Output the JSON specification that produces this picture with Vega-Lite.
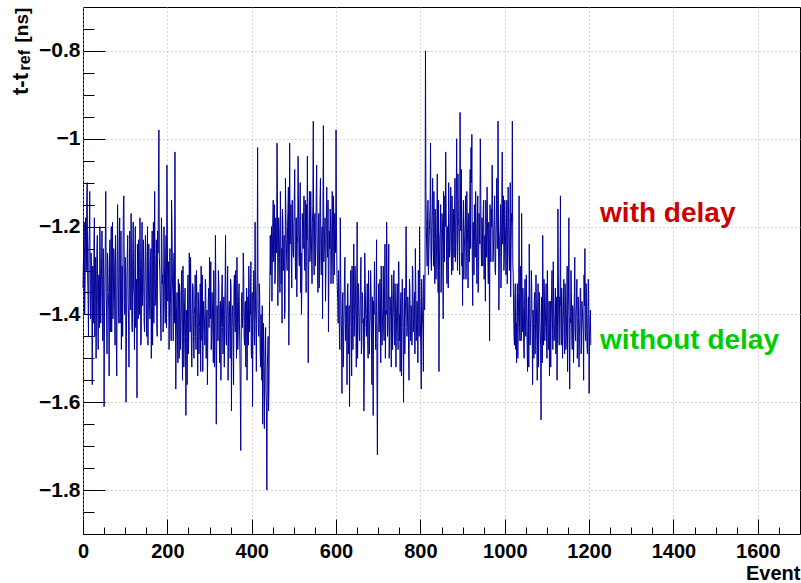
{
"$schema": "https://vega.github.io/schema/vega-lite/v6.json",
"autosize": "none",
"width": 717,
"height": 527,
"padding": {"left": 83, "top": 7, "right": 1, "bottom": 49},
"background": "white",
"config": {"view": {"stroke": "black", "strokeWidth": 1}},
"resolve": {"axis": {"x": "independent", "y": "independent"}},
"layer": [
{
"data": {"values": [
{"e":0,"t":-1.34},{"e":2,"t":-1.22},{"e":4,"t":-1.40},{"e":6,"t":-1.18},{"e":8,"t":-1.30},{"e":10,"t":-1.10},{"e":12,"t":-1.36},{"e":14,"t":-1.25},{"e":16,"t":-1.12},{"e":18,"t":-1.41},
{"e":20,"t":-1.28},{"e":22,"t":-1.56},{"e":24,"t":-1.30},{"e":26,"t":-1.24},{"e":28,"t":-1.45},{"e":30,"t":-1.27},{"e":32,"t":-1.38},{"e":34,"t":-1.22},{"e":36,"t":-1.48},{"e":38,"t":-1.31},
{"e":40,"t":-1.20},{"e":42,"t":-1.42},{"e":44,"t":-1.29},{"e":46,"t":-1.37},{"e":48,"t":-1.25},{"e":50,"t":-1.61},{"e":52,"t":-1.33},{"e":54,"t":-1.12},{"e":56,"t":-1.40},{"e":58,"t":-1.26},
{"e":60,"t":-1.35},{"e":62,"t":-1.54},{"e":64,"t":-1.23},{"e":66,"t":-1.31},{"e":68,"t":-1.44},{"e":70,"t":-1.19},{"e":72,"t":-1.36},{"e":74,"t":-1.28},{"e":76,"t":-1.47},{"e":78,"t":-1.30},
{"e":80,"t":-1.54},{"e":82,"t":-1.15},{"e":84,"t":-1.38},{"e":86,"t":-1.24},{"e":88,"t":-1.42},{"e":90,"t":-1.21},{"e":92,"t":-1.33},{"e":94,"t":-1.45},{"e":96,"t":-1.14},{"e":98,"t":-1.37},
{"e":100,"t":-1.27},{"e":102,"t":-1.60},{"e":104,"t":-1.32},{"e":106,"t":-1.22},{"e":108,"t":-1.41},{"e":110,"t":-1.29},{"e":112,"t":-1.36},{"e":114,"t":-1.17},{"e":116,"t":-1.43},{"e":118,"t":-1.25},
{"e":120,"t":-1.34},{"e":122,"t":-1.48},{"e":124,"t":-1.20},{"e":126,"t":-1.38},{"e":128,"t":-1.59},{"e":130,"t":-1.30},{"e":132,"t":-1.23},{"e":134,"t":-1.40},{"e":136,"t":-1.27},{"e":138,"t":-1.46},
{"e":140,"t":-1.19},{"e":142,"t":-1.35},{"e":144,"t":-1.29},{"e":146,"t":-1.44},{"e":148,"t":-1.22},{"e":150,"t":-1.37},{"e":152,"t":-1.31},{"e":154,"t":-1.47},{"e":156,"t":-1.24},{"e":158,"t":-1.39},
{"e":160,"t":-1.28},{"e":162,"t":-1.50},{"e":164,"t":-1.21},{"e":166,"t":-1.34},{"e":168,"t":-1.42},{"e":170,"t":-1.12},{"e":172,"t":-1.36},{"e":174,"t":-1.23},{"e":176,"t":-1.45},{"e":178,"t":-1.26},
{"e":180,"t":-0.98},{"e":182,"t":-1.30},{"e":184,"t":-1.40},{"e":186,"t":-1.18},{"e":188,"t":-1.33},{"e":190,"t":-1.44},{"e":192,"t":-1.20},{"e":194,"t":-1.37},{"e":196,"t":-1.27},{"e":198,"t":-1.43},
{"e":200,"t":-1.22},{"e":202,"t":-1.35},{"e":204,"t":-1.48},{"e":206,"t":-1.25},{"e":208,"t":-1.38},{"e":210,"t":-1.14},{"e":212,"t":-1.31},{"e":214,"t":-1.46},{"e":216,"t":-1.26},{"e":218,"t":-1.03},
{"e":220,"t":-1.57},{"e":222,"t":-1.38},{"e":224,"t":-1.46},{"e":226,"t":-1.32},{"e":228,"t":-1.50},{"e":230,"t":-1.36},{"e":232,"t":-1.43},{"e":234,"t":-1.30},{"e":236,"t":-1.55},{"e":238,"t":-1.39},
{"e":240,"t":-1.47},{"e":242,"t":-1.34},{"e":244,"t":-1.63},{"e":246,"t":-1.41},{"e":248,"t":-1.35},{"e":250,"t":-1.49},{"e":252,"t":-1.26},{"e":254,"t":-1.44},{"e":256,"t":-1.37},{"e":258,"t":-1.52},
{"e":260,"t":-1.33},{"e":262,"t":-1.45},{"e":264,"t":-1.40},{"e":266,"t":-1.31},{"e":268,"t":-1.48},{"e":270,"t":-1.36},{"e":272,"t":-1.54},{"e":274,"t":-1.38},{"e":276,"t":-1.43},{"e":278,"t":-1.33},
{"e":280,"t":-1.29},{"e":282,"t":-1.46},{"e":284,"t":-1.53},{"e":286,"t":-1.37},{"e":288,"t":-1.42},{"e":290,"t":-1.32},{"e":292,"t":-1.50},{"e":294,"t":-1.39},{"e":296,"t":-1.45},{"e":298,"t":-1.34},
{"e":300,"t":-1.27},{"e":302,"t":-1.41},{"e":304,"t":-1.48},{"e":306,"t":-1.35},{"e":308,"t":-1.44},{"e":310,"t":-1.30},{"e":312,"t":-1.52},{"e":314,"t":-1.22},{"e":316,"t":-1.65},{"e":318,"t":-1.38},
{"e":320,"t":-1.46},{"e":322,"t":-1.33},{"e":324,"t":-1.51},{"e":326,"t":-1.37},{"e":328,"t":-1.43},{"e":330,"t":-1.31},{"e":332,"t":-1.49},{"e":334,"t":-1.36},{"e":336,"t":-1.40},{"e":338,"t":-1.22},
{"e":340,"t":-1.47},{"e":342,"t":-1.35},{"e":344,"t":-1.55},{"e":346,"t":-1.38},{"e":348,"t":-1.44},{"e":350,"t":-1.32},{"e":352,"t":-1.62},{"e":354,"t":-1.39},{"e":356,"t":-1.46},{"e":358,"t":-1.34},
{"e":360,"t":-1.42},{"e":362,"t":-1.30},{"e":364,"t":-1.50},{"e":366,"t":-1.37},{"e":368,"t":-1.44},{"e":370,"t":-1.33},{"e":372,"t":-1.49},{"e":374,"t":-1.71},{"e":376,"t":-1.36},{"e":378,"t":-1.43},
{"e":380,"t":-1.26},{"e":382,"t":-1.45},{"e":384,"t":-1.38},{"e":386,"t":-1.52},{"e":388,"t":-1.34},{"e":390,"t":-1.41},{"e":392,"t":-1.47},{"e":394,"t":-1.33},{"e":396,"t":-1.39},{"e":398,"t":-1.28},
{"e":400,"t":-1.50},{"e":402,"t":-1.61},{"e":404,"t":-1.37},{"e":406,"t":-1.45},{"e":408,"t":-1.19},{"e":410,"t":-1.42},{"e":412,"t":-1.36},{"e":414,"t":-1.02},{"e":416,"t":-1.44},{"e":418,"t":-1.33},
{"e":420,"t":-1.48},{"e":422,"t":-1.40},{"e":424,"t":-1.55},{"e":426,"t":-1.65},{"e":428,"t":-1.42},{"e":430,"t":-1.66},{"e":432,"t":-1.50},{"e":434,"t":-1.58},{"e":436,"t":-1.80},{"e":438,"t":-1.49},
{"e":440,"t":-1.62},{"e":442,"t":-1.41},{"e":444,"t":-1.22},{"e":446,"t":-1.26},{"e":448,"t":-1.37},{"e":450,"t":-1.19},{"e":452,"t":-1.28},{"e":454,"t":-1.15},{"e":456,"t":-1.31},{"e":458,"t":-1.22},
{"e":460,"t":-1.01},{"e":462,"t":-1.38},{"e":464,"t":-1.18},{"e":466,"t":-1.27},{"e":468,"t":-1.12},{"e":470,"t":-1.33},{"e":472,"t":-1.42},{"e":474,"t":-1.20},{"e":476,"t":-1.25},{"e":478,"t":-1.41},
{"e":480,"t":-1.09},{"e":482,"t":-1.23},{"e":484,"t":-1.30},{"e":486,"t":-1.16},{"e":488,"t":-1.47},{"e":490,"t":-1.01},{"e":492,"t":-1.21},{"e":494,"t":-1.29},{"e":496,"t":-1.14},{"e":498,"t":-1.26},
{"e":500,"t":-1.19},{"e":502,"t":-1.07},{"e":504,"t":-1.32},{"e":506,"t":-1.18},{"e":508,"t":-1.24},{"e":510,"t":-1.04},{"e":512,"t":-1.27},{"e":514,"t":-1.20},{"e":516,"t":-1.35},{"e":518,"t":-1.40},
{"e":520,"t":-1.17},{"e":522,"t":-1.25},{"e":524,"t":-1.13},{"e":526,"t":-1.30},{"e":528,"t":-1.21},{"e":530,"t":-1.15},{"e":532,"t":-1.04},{"e":534,"t":-1.51},{"e":536,"t":-1.22},{"e":538,"t":-1.28},
{"e":540,"t":-1.12},{"e":542,"t":-1.26},{"e":544,"t":-1.19},{"e":546,"t":-0.96},{"e":548,"t":-1.31},{"e":550,"t":-1.17},{"e":552,"t":-1.24},{"e":554,"t":-1.06},{"e":556,"t":-1.29},{"e":558,"t":-1.20},
{"e":560,"t":-1.34},{"e":562,"t":-1.14},{"e":564,"t":-1.27},{"e":566,"t":-1.22},{"e":568,"t":-1.41},{"e":570,"t":-0.97},{"e":572,"t":-1.25},{"e":574,"t":-1.18},{"e":576,"t":-1.30},{"e":578,"t":-1.11},
{"e":580,"t":-1.27},{"e":582,"t":-1.44},{"e":584,"t":-1.21},{"e":586,"t":-1.16},{"e":588,"t":-1.33},{"e":590,"t":-1.19},{"e":592,"t":-1.26},{"e":594,"t":-1.13},{"e":596,"t":-1.31},{"e":598,"t":-1.22},
{"e":600,"t":-0.98},{"e":602,"t":-1.29},{"e":604,"t":-1.37},{"e":606,"t":-1.30},{"e":608,"t":-1.45},{"e":610,"t":-1.18},{"e":612,"t":-1.40},{"e":614,"t":-1.58},{"e":616,"t":-1.35},{"e":618,"t":-1.47},
{"e":620,"t":-1.31},{"e":622,"t":-1.42},{"e":624,"t":-1.38},{"e":626,"t":-1.56},{"e":628,"t":-1.33},{"e":630,"t":-1.45},{"e":632,"t":-1.61},{"e":634,"t":-1.36},{"e":636,"t":-1.43},{"e":638,"t":-1.29},
{"e":640,"t":-1.48},{"e":642,"t":-1.24},{"e":644,"t":-1.40},{"e":646,"t":-1.34},{"e":648,"t":-1.52},{"e":650,"t":-1.19},{"e":652,"t":-1.41},{"e":654,"t":-1.37},{"e":656,"t":-1.46},{"e":658,"t":-1.32},
{"e":660,"t":-1.49},{"e":662,"t":-1.35},{"e":664,"t":-1.42},{"e":666,"t":-1.62},{"e":668,"t":-1.26},{"e":670,"t":-1.39},{"e":672,"t":-1.45},{"e":674,"t":-1.33},{"e":676,"t":-1.50},{"e":678,"t":-1.37},
{"e":680,"t":-1.43},{"e":682,"t":-1.30},{"e":684,"t":-1.47},{"e":686,"t":-1.36},{"e":688,"t":-1.63},{"e":690,"t":-1.40},{"e":692,"t":-1.34},{"e":694,"t":-1.48},{"e":696,"t":-1.23},{"e":698,"t":-1.72},
{"e":700,"t":-1.38},{"e":702,"t":-1.44},{"e":704,"t":-1.32},{"e":706,"t":-1.51},{"e":708,"t":-1.37},{"e":710,"t":-1.42},{"e":712,"t":-1.29},{"e":714,"t":-1.46},{"e":716,"t":-1.24},{"e":718,"t":-1.39},
{"e":720,"t":-1.19},{"e":722,"t":-1.45},{"e":724,"t":-1.34},{"e":726,"t":-1.50},{"e":728,"t":-1.36},{"e":730,"t":-1.41},{"e":732,"t":-1.31},{"e":734,"t":-1.48},{"e":736,"t":-1.38},{"e":738,"t":-1.44},
{"e":740,"t":-1.33},{"e":742,"t":-1.52},{"e":744,"t":-1.37},{"e":746,"t":-1.42},{"e":748,"t":-1.28},{"e":750,"t":-1.46},{"e":752,"t":-1.53},{"e":754,"t":-1.35},{"e":756,"t":-1.43},{"e":758,"t":-1.39},
{"e":760,"t":-1.60},{"e":762,"t":-1.34},{"e":764,"t":-1.41},{"e":766,"t":-1.20},{"e":768,"t":-1.45},{"e":770,"t":-1.36},{"e":772,"t":-1.49},{"e":774,"t":-1.32},{"e":776,"t":-1.43},{"e":778,"t":-1.38},
{"e":780,"t":-1.47},{"e":782,"t":-1.30},{"e":784,"t":-1.41},{"e":786,"t":-1.35},{"e":788,"t":-1.25},{"e":790,"t":-1.46},{"e":792,"t":-1.37},{"e":794,"t":-1.51},{"e":796,"t":-1.33},{"e":798,"t":-1.20},
{"e":800,"t":-1.42},{"e":802,"t":-1.57},{"e":804,"t":-1.36},{"e":806,"t":-1.44},{"e":808,"t":-1.31},{"e":810,"t":-1.39},{"e":812,"t":-0.80},{"e":814,"t":-1.20},{"e":816,"t":-1.29},{"e":818,"t":-1.14},
{"e":820,"t":-1.26},{"e":822,"t":-1.18},{"e":824,"t":-1.01},{"e":826,"t":-1.30},{"e":828,"t":-1.16},{"e":830,"t":-1.24},{"e":832,"t":-1.12},{"e":834,"t":-1.33},{"e":836,"t":-1.21},{"e":838,"t":-1.27},
{"e":840,"t":-1.08},{"e":842,"t":-1.35},{"e":844,"t":-1.53},{"e":846,"t":-1.22},{"e":848,"t":-1.15},{"e":850,"t":-1.29},{"e":852,"t":-1.19},{"e":854,"t":-1.41},{"e":856,"t":-1.24},{"e":858,"t":-1.13},
{"e":860,"t":-1.03},{"e":862,"t":-1.28},{"e":864,"t":-1.20},{"e":866,"t":-1.34},{"e":868,"t":-1.17},{"e":870,"t":-1.25},{"e":872,"t":-1.11},{"e":874,"t":-1.31},{"e":876,"t":-1.22},{"e":878,"t":-1.16},
{"e":880,"t":-1.27},{"e":882,"t":-1.09},{"e":884,"t":-1.23},{"e":886,"t":-1.00},{"e":888,"t":-1.30},{"e":890,"t":-1.18},{"e":892,"t":-1.25},{"e":894,"t":-0.94},{"e":896,"t":-1.21},{"e":898,"t":-1.29},
{"e":900,"t":-1.38},{"e":902,"t":-1.14},{"e":904,"t":-1.26},{"e":906,"t":-1.19},{"e":908,"t":-1.32},{"e":910,"t":-1.12},{"e":912,"t":-1.24},{"e":914,"t":-1.17},{"e":916,"t":-1.28},{"e":918,"t":-1.07},
{"e":920,"t":-1.02},{"e":922,"t":-0.99},{"e":924,"t":-1.38},{"e":926,"t":-1.22},{"e":928,"t":-1.15},{"e":930,"t":-1.27},{"e":932,"t":-1.19},{"e":934,"t":-1.33},{"e":936,"t":-1.13},{"e":938,"t":-1.30},
{"e":940,"t":-1.21},{"e":942,"t":-1.00},{"e":944,"t":-1.25},{"e":946,"t":-1.18},{"e":948,"t":-1.29},{"e":950,"t":-1.14},{"e":952,"t":-1.23},{"e":954,"t":-1.37},{"e":956,"t":-1.20},{"e":958,"t":-1.11},
{"e":960,"t":-1.27},{"e":962,"t":-1.19},{"e":964,"t":-1.46},{"e":966,"t":-1.24},{"e":968,"t":-1.16},{"e":970,"t":-1.06},{"e":972,"t":-1.28},{"e":974,"t":-1.21},{"e":976,"t":-1.13},{"e":978,"t":-1.31},
{"e":980,"t":-1.18},{"e":982,"t":-1.25},{"e":984,"t":-0.96},{"e":986,"t":-1.39},{"e":988,"t":-1.22},{"e":990,"t":-1.15},{"e":992,"t":-1.27},{"e":994,"t":-1.03},{"e":996,"t":-1.20},{"e":998,"t":-1.30},
{"e":1000,"t":-1.14},{"e":1002,"t":-1.24},{"e":1004,"t":-1.19},{"e":1006,"t":-1.33},{"e":1008,"t":-1.11},{"e":1010,"t":-1.26},{"e":1012,"t":-1.21},{"e":1014,"t":-1.36},{"e":1016,"t":-1.17},{"e":1018,"t":-0.96},
{"e":1020,"t":-1.31},{"e":1022,"t":-1.45},{"e":1024,"t":-1.36},{"e":1026,"t":-1.48},{"e":1028,"t":-1.51},{"e":1030,"t":-1.33},{"e":1032,"t":-1.42},{"e":1034,"t":-1.13},{"e":1036,"t":-1.46},{"e":1038,"t":-1.35},
{"e":1040,"t":-1.17},{"e":1042,"t":-1.44},{"e":1044,"t":-1.39},{"e":1046,"t":-1.50},{"e":1048,"t":-1.32},{"e":1050,"t":-1.45},{"e":1052,"t":-1.38},{"e":1054,"t":-1.53},{"e":1056,"t":-1.36},{"e":1058,"t":-1.24},
{"e":1060,"t":-1.47},{"e":1062,"t":-1.40},{"e":1064,"t":-1.34},{"e":1066,"t":-1.56},{"e":1068,"t":-1.42},{"e":1070,"t":-1.37},{"e":1072,"t":-1.49},{"e":1074,"t":-1.31},{"e":1076,"t":-1.46},{"e":1078,"t":-1.39},
{"e":1080,"t":-1.52},{"e":1082,"t":-1.35},{"e":1084,"t":-1.44},{"e":1086,"t":-1.64},{"e":1088,"t":-1.41},{"e":1090,"t":-1.22},{"e":1092,"t":-1.47},{"e":1094,"t":-1.36},{"e":1096,"t":-1.43},{"e":1098,"t":-1.33},
{"e":1100,"t":-1.50},{"e":1102,"t":-1.38},{"e":1104,"t":-1.45},{"e":1106,"t":-1.54},{"e":1108,"t":-1.37},{"e":1110,"t":-1.42},{"e":1112,"t":-1.30},{"e":1114,"t":-1.48},{"e":1116,"t":-1.39},{"e":1118,"t":-1.44},
{"e":1120,"t":-1.34},{"e":1122,"t":-1.46},{"e":1124,"t":-1.55},{"e":1126,"t":-1.16},{"e":1128,"t":-1.41},{"e":1130,"t":-1.36},{"e":1132,"t":-1.13},{"e":1134,"t":-1.47},{"e":1136,"t":-1.38},{"e":1138,"t":-1.43},
{"e":1140,"t":-1.32},{"e":1142,"t":-1.49},{"e":1144,"t":-1.37},{"e":1146,"t":-1.45},{"e":1148,"t":-1.29},{"e":1150,"t":-1.40},{"e":1152,"t":-1.18},{"e":1154,"t":-1.57},{"e":1156,"t":-1.42},{"e":1158,"t":-1.35},
{"e":1160,"t":-1.48},{"e":1162,"t":-1.39},{"e":1164,"t":-1.44},{"e":1166,"t":-1.27},{"e":1168,"t":-1.46},{"e":1170,"t":-1.38},{"e":1172,"t":-1.50},{"e":1174,"t":-1.36},{"e":1176,"t":-1.52},{"e":1178,"t":-1.41},
{"e":1180,"t":-1.34},{"e":1182,"t":-1.47},{"e":1184,"t":-1.39},{"e":1186,"t":-1.44},{"e":1188,"t":-1.31},{"e":1190,"t":-1.25},{"e":1192,"t":-1.46},{"e":1194,"t":-1.40},{"e":1196,"t":-1.49},{"e":1198,"t":-1.32},
{"e":1200,"t":-1.58},{"e":1202,"t":-1.41},{"e":1204,"t":-1.47},
{"e":1,"t":-1.28},{"e":3,"t":-1.19},{"e":5,"t":-1.33},{"e":7,"t":-1.24},{"e":9,"t":-1.13},{"e":11,"t":-1.31},{"e":13,"t":-1.45},{"e":15,"t":-1.21},{"e":17,"t":-1.35},{"e":19,"t":-1.26},
{"e":21,"t":-1.38},{"e":23,"t":-1.29},{"e":25,"t":-1.42},{"e":27,"t":-1.18},{"e":29,"t":-1.34},{"e":31,"t":-1.50},{"e":33,"t":-1.25},{"e":35,"t":-1.39},{"e":37,"t":-1.32},{"e":39,"t":-1.43},
{"e":41,"t":-1.27},{"e":43,"t":-1.36},{"e":45,"t":-1.21},{"e":47,"t":-1.46},{"e":49,"t":-1.30},{"e":51,"t":-1.40},{"e":53,"t":-1.23},{"e":55,"t":-1.35},{"e":57,"t":-1.49},{"e":59,"t":-1.28},
{"e":61,"t":-1.39},{"e":63,"t":-1.26},{"e":65,"t":-1.44},{"e":67,"t":-1.20},{"e":69,"t":-1.33},{"e":71,"t":-1.41},{"e":73,"t":-1.25},{"e":75,"t":-1.37},{"e":77,"t":-1.22},{"e":79,"t":-1.46},
{"e":81,"t":-1.31},{"e":83,"t":-1.27},{"e":85,"t":-1.42},{"e":87,"t":-1.18},{"e":89,"t":-1.35},{"e":91,"t":-1.48},{"e":93,"t":-1.29},{"e":95,"t":-1.24},{"e":97,"t":-1.13},{"e":99,"t":-1.40},
{"e":101,"t":-1.33},{"e":103,"t":-1.45},{"e":105,"t":-1.26},{"e":107,"t":-1.37},{"e":109,"t":-1.52},{"e":111,"t":-1.21},{"e":113,"t":-1.39},{"e":115,"t":-1.30},{"e":117,"t":-1.44},{"e":119,"t":-1.19},
{"e":121,"t":-1.36},{"e":123,"t":-1.27},{"e":125,"t":-1.43},{"e":127,"t":-1.32},{"e":129,"t":-1.24},{"e":131,"t":-1.41},{"e":133,"t":-1.35},{"e":135,"t":-1.18},{"e":137,"t":-1.47},{"e":139,"t":-1.29},
{"e":141,"t":-1.38},{"e":143,"t":-1.23},{"e":145,"t":-1.42},{"e":147,"t":-1.31},{"e":149,"t":-1.26},{"e":151,"t":-1.45},{"e":153,"t":-1.20},{"e":155,"t":-1.36},{"e":157,"t":-1.30},{"e":159,"t":-1.41},
{"e":161,"t":-1.25},{"e":163,"t":-1.34},{"e":165,"t":-1.47},{"e":167,"t":-1.19},{"e":169,"t":-1.32},{"e":171,"t":-1.38},{"e":173,"t":-1.28},{"e":175,"t":-1.43},{"e":177,"t":-1.21},{"e":179,"t":-1.09},
{"e":181,"t":-1.27},{"e":183,"t":-1.35},{"e":185,"t":-1.46},{"e":187,"t":-1.24},{"e":189,"t":-1.31},{"e":191,"t":-1.39},{"e":193,"t":-1.29},{"e":195,"t":-1.42},{"e":197,"t":-1.22},{"e":199,"t":-1.06},
{"e":201,"t":-1.37},{"e":203,"t":-1.28},{"e":205,"t":-1.41},{"e":207,"t":-1.33},{"e":209,"t":-1.46},{"e":211,"t":-1.20},{"e":213,"t":-1.36},{"e":215,"t":-1.29},{"e":217,"t":-1.42},{"e":219,"t":-1.34},
{"e":221,"t":-1.46},{"e":223,"t":-1.35},{"e":225,"t":-1.51},{"e":227,"t":-1.40},{"e":229,"t":-1.33},{"e":231,"t":-1.48},{"e":233,"t":-1.38},{"e":235,"t":-1.44},{"e":237,"t":-1.29},{"e":239,"t":-1.52},
{"e":241,"t":-1.37},{"e":243,"t":-1.45},{"e":245,"t":-1.39},{"e":247,"t":-1.56},{"e":249,"t":-1.31},{"e":251,"t":-1.43},{"e":253,"t":-1.36},{"e":255,"t":-1.27},{"e":257,"t":-1.47},{"e":259,"t":-1.40},
{"e":261,"t":-1.34},{"e":263,"t":-1.50},{"e":265,"t":-1.38},{"e":267,"t":-1.45},{"e":269,"t":-1.30},{"e":271,"t":-1.42},{"e":273,"t":-1.35},{"e":275,"t":-1.49},{"e":277,"t":-1.39},{"e":279,"t":-1.53},
{"e":281,"t":-1.36},{"e":283,"t":-1.31},{"e":285,"t":-1.44},{"e":287,"t":-1.40},{"e":289,"t":-1.47},{"e":291,"t":-1.33},{"e":293,"t":-1.41},{"e":295,"t":-1.56},{"e":297,"t":-1.37},{"e":299,"t":-1.43},
{"e":301,"t":-1.32},{"e":303,"t":-1.28},{"e":305,"t":-1.45},{"e":307,"t":-1.39},{"e":309,"t":-1.51},{"e":311,"t":-1.36},{"e":313,"t":-1.42},{"e":315,"t":-1.34},{"e":317,"t":-1.48},{"e":319,"t":-1.41},
{"e":321,"t":-1.30},{"e":323,"t":-1.44},{"e":325,"t":-1.38},{"e":327,"t":-1.55},{"e":329,"t":-1.35},{"e":331,"t":-1.43},{"e":333,"t":-1.39},{"e":335,"t":-1.52},{"e":337,"t":-1.33},{"e":339,"t":-1.45},
{"e":341,"t":-1.40},{"e":343,"t":-1.29},{"e":345,"t":-1.46},{"e":347,"t":-1.37},{"e":349,"t":-1.50},{"e":351,"t":-1.34},{"e":353,"t":-1.43},{"e":355,"t":-1.38},{"e":357,"t":-1.56},{"e":359,"t":-1.31},
{"e":361,"t":-1.44},{"e":363,"t":-1.39},{"e":365,"t":-1.27},{"e":367,"t":-1.48},{"e":369,"t":-1.36},{"e":371,"t":-1.42},{"e":373,"t":-1.58},{"e":375,"t":-1.46},{"e":377,"t":-1.35},{"e":379,"t":-1.40},
{"e":381,"t":-1.31},{"e":383,"t":-1.47},{"e":385,"t":-1.37},{"e":387,"t":-1.43},{"e":389,"t":-1.55},{"e":391,"t":-1.36},{"e":393,"t":-1.29},{"e":395,"t":-1.44},{"e":397,"t":-1.40},{"e":399,"t":-1.49},
{"e":401,"t":-1.35},{"e":403,"t":-1.42},{"e":405,"t":-1.30},{"e":407,"t":-1.47},{"e":409,"t":-1.38},{"e":411,"t":-1.53},{"e":413,"t":-1.31},{"e":415,"t":-1.39},{"e":417,"t":-1.45},{"e":419,"t":-1.36},
{"e":421,"t":-1.52},{"e":423,"t":-1.44},{"e":425,"t":-1.38},{"e":427,"t":-1.57},{"e":429,"t":-1.47},{"e":431,"t":-1.54},{"e":433,"t":-1.43},{"e":435,"t":-1.61},{"e":437,"t":-1.52},{"e":439,"t":-1.45},
{"e":441,"t":-1.56},{"e":443,"t":-1.33},{"e":445,"t":-1.31},{"e":447,"t":-1.20},{"e":449,"t":-1.27},{"e":451,"t":-1.14},{"e":453,"t":-1.23},{"e":455,"t":-1.33},{"e":457,"t":-1.18},{"e":459,"t":-1.26},
{"e":461,"t":-1.12},{"e":463,"t":-1.29},{"e":465,"t":-1.21},{"e":467,"t":-1.35},{"e":469,"t":-1.19},{"e":471,"t":-1.25},{"e":473,"t":-1.16},{"e":475,"t":-1.30},{"e":477,"t":-1.22},{"e":479,"t":-1.39},
{"e":481,"t":-1.17},{"e":483,"t":-1.28},{"e":485,"t":-1.20},{"e":487,"t":-1.11},{"e":489,"t":-1.32},{"e":491,"t":-1.24},{"e":493,"t":-1.15},{"e":495,"t":-1.34},{"e":497,"t":-1.21},{"e":499,"t":-1.27},
{"e":501,"t":-1.13},{"e":503,"t":-1.25},{"e":505,"t":-1.18},{"e":507,"t":-1.36},{"e":509,"t":-1.22},{"e":511,"t":-1.16},{"e":513,"t":-1.29},{"e":515,"t":-1.10},{"e":517,"t":-1.26},{"e":519,"t":-1.32},
{"e":521,"t":-1.21},{"e":523,"t":-1.18},{"e":525,"t":-1.27},{"e":527,"t":-1.14},{"e":529,"t":-1.35},{"e":531,"t":-1.23},{"e":533,"t":-1.19},{"e":535,"t":-1.30},{"e":537,"t":-1.12},{"e":539,"t":-1.25},
{"e":541,"t":-1.20},{"e":543,"t":-1.33},{"e":545,"t":-1.15},{"e":547,"t":-1.24},{"e":549,"t":-1.18},{"e":551,"t":-1.29},{"e":553,"t":-1.13},{"e":555,"t":-1.22},{"e":557,"t":-1.35},{"e":559,"t":-1.17},
{"e":561,"t":-1.26},{"e":563,"t":-1.09},{"e":565,"t":-1.31},{"e":567,"t":-1.20},{"e":569,"t":-1.15},{"e":571,"t":-1.28},{"e":573,"t":-1.21},{"e":575,"t":-1.37},{"e":577,"t":-1.18},{"e":579,"t":-1.24},
{"e":581,"t":-1.14},{"e":583,"t":-1.32},{"e":585,"t":-1.25},{"e":587,"t":-1.19},{"e":589,"t":-1.28},{"e":591,"t":-1.12},{"e":593,"t":-1.33},{"e":595,"t":-1.21},{"e":597,"t":-1.17},{"e":599,"t":-1.26},
{"e":601,"t":-1.20},{"e":603,"t":-1.34},{"e":605,"t":-1.42},{"e":607,"t":-1.35},{"e":609,"t":-1.48},{"e":611,"t":-1.31},{"e":613,"t":-1.44},{"e":615,"t":-1.37},{"e":617,"t":-1.52},{"e":619,"t":-1.39},
{"e":621,"t":-1.27},{"e":623,"t":-1.46},{"e":625,"t":-1.41},{"e":627,"t":-1.34},{"e":629,"t":-1.49},{"e":631,"t":-1.38},{"e":633,"t":-1.43},{"e":635,"t":-1.30},{"e":637,"t":-1.54},{"e":639,"t":-1.40},
{"e":641,"t":-1.36},{"e":643,"t":-1.45},{"e":645,"t":-1.29},{"e":647,"t":-1.42},{"e":649,"t":-1.37},{"e":651,"t":-1.50},{"e":653,"t":-1.33},{"e":655,"t":-1.44},{"e":657,"t":-1.39},{"e":659,"t":-1.27},
{"e":661,"t":-1.47},{"e":663,"t":-1.36},{"e":665,"t":-1.41},{"e":667,"t":-1.53},{"e":669,"t":-1.32},{"e":671,"t":-1.43},{"e":673,"t":-1.38},{"e":675,"t":-1.46},{"e":677,"t":-1.30},{"e":679,"t":-1.49},
{"e":681,"t":-1.40},{"e":683,"t":-1.35},{"e":685,"t":-1.56},{"e":687,"t":-1.44},{"e":689,"t":-1.37},{"e":691,"t":-1.28},{"e":693,"t":-1.42},{"e":695,"t":-1.39},{"e":697,"t":-1.55},{"e":699,"t":-1.46},
{"e":701,"t":-1.33},{"e":703,"t":-1.41},{"e":705,"t":-1.36},{"e":707,"t":-1.29},{"e":709,"t":-1.47},{"e":711,"t":-1.38},{"e":713,"t":-1.44},{"e":715,"t":-1.34},{"e":717,"t":-1.50},{"e":719,"t":-1.40},
{"e":721,"t":-1.31},{"e":723,"t":-1.43},{"e":725,"t":-1.24},{"e":727,"t":-1.45},{"e":729,"t":-1.38},{"e":731,"t":-1.52},{"e":733,"t":-1.35},{"e":735,"t":-1.41},{"e":737,"t":-1.30},{"e":739,"t":-1.47},
{"e":741,"t":-1.39},{"e":743,"t":-1.44},{"e":745,"t":-1.33},{"e":747,"t":-1.48},{"e":749,"t":-1.28},{"e":751,"t":-1.40},{"e":753,"t":-1.37},{"e":755,"t":-1.54},{"e":757,"t":-1.32},{"e":759,"t":-1.45},
{"e":761,"t":-1.41},{"e":763,"t":-1.49},{"e":765,"t":-1.36},{"e":767,"t":-1.31},{"e":769,"t":-1.43},{"e":771,"t":-1.38},{"e":773,"t":-1.55},{"e":775,"t":-1.34},{"e":777,"t":-1.46},{"e":779,"t":-1.40},
{"e":781,"t":-1.29},{"e":783,"t":-1.44},{"e":785,"t":-1.37},{"e":787,"t":-1.49},{"e":789,"t":-1.33},{"e":791,"t":-1.42},{"e":793,"t":-1.39},{"e":795,"t":-1.30},{"e":797,"t":-1.45},{"e":799,"t":-1.36},
{"e":801,"t":-1.48},{"e":803,"t":-1.32},{"e":805,"t":-1.41},{"e":807,"t":-1.53},{"e":809,"t":-1.37},{"e":811,"t":-1.30},{"e":813,"t":-1.12},{"e":815,"t":-1.25},{"e":817,"t":-1.18},{"e":819,"t":-1.31},
{"e":821,"t":-1.22},{"e":823,"t":-1.15},{"e":825,"t":-1.27},{"e":827,"t":-1.20},{"e":829,"t":-1.09},{"e":831,"t":-1.29},{"e":833,"t":-1.23},{"e":835,"t":-1.16},{"e":837,"t":-1.32},{"e":839,"t":-1.19},
{"e":841,"t":-1.26},{"e":843,"t":-1.14},{"e":845,"t":-1.30},{"e":847,"t":-1.21},{"e":849,"t":-1.35},{"e":851,"t":-1.17},{"e":853,"t":-1.24},{"e":855,"t":-1.12},{"e":857,"t":-1.28},{"e":859,"t":-1.20},
{"e":861,"t":-1.16},{"e":863,"t":-1.33},{"e":865,"t":-1.22},{"e":867,"t":-1.10},{"e":869,"t":-1.27},{"e":871,"t":-1.19},{"e":873,"t":-1.25},{"e":875,"t":-1.13},{"e":877,"t":-1.30},{"e":879,"t":-1.21},
{"e":881,"t":-1.17},{"e":883,"t":-1.28},{"e":885,"t":-1.14},{"e":887,"t":-1.24},{"e":889,"t":-1.08},{"e":891,"t":-1.20},{"e":893,"t":-1.31},{"e":895,"t":-1.15},{"e":897,"t":-1.07},{"e":899,"t":-1.26},
{"e":901,"t":-1.19},{"e":903,"t":-1.32},{"e":905,"t":-1.22},{"e":907,"t":-1.13},{"e":909,"t":-1.27},{"e":911,"t":-1.18},{"e":913,"t":-1.34},{"e":915,"t":-1.21},{"e":917,"t":-1.15},{"e":919,"t":-1.25},
{"e":921,"t":-1.10},{"e":923,"t":-1.28},{"e":925,"t":-1.19},{"e":927,"t":-1.31},{"e":929,"t":-1.23},{"e":931,"t":-1.12},{"e":933,"t":-1.26},{"e":935,"t":-1.20},{"e":937,"t":-1.35},{"e":939,"t":-1.17},
{"e":941,"t":-1.24},{"e":943,"t":-1.11},{"e":945,"t":-1.29},{"e":947,"t":-1.21},{"e":949,"t":-1.16},{"e":951,"t":-1.32},{"e":953,"t":-1.22},{"e":955,"t":-1.14},{"e":957,"t":-1.27},{"e":959,"t":-1.19},
{"e":961,"t":-1.33},{"e":963,"t":-1.23},{"e":965,"t":-1.15},{"e":967,"t":-1.28},{"e":969,"t":-1.20},{"e":971,"t":-1.12},{"e":973,"t":-1.26},{"e":975,"t":-1.18},{"e":977,"t":-1.30},{"e":979,"t":-1.22},
{"e":981,"t":-1.09},{"e":983,"t":-1.25},{"e":985,"t":-1.17},{"e":987,"t":-1.29},{"e":989,"t":-1.21},{"e":991,"t":-1.34},{"e":993,"t":-1.16},{"e":995,"t":-1.24},{"e":997,"t":-1.13},{"e":999,"t":-1.27},
{"e":1001,"t":-1.20},{"e":1003,"t":-1.31},{"e":1005,"t":-1.14},{"e":1007,"t":-1.23},{"e":1009,"t":-1.18},{"e":1011,"t":-1.30},{"e":1013,"t":-1.10},{"e":1015,"t":-1.25},{"e":1017,"t":-1.19},{"e":1019,"t":-1.28},
{"e":1021,"t":-1.39},{"e":1023,"t":-1.47},{"e":1025,"t":-1.33},{"e":1027,"t":-1.42},{"e":1029,"t":-1.37},{"e":1031,"t":-1.50},{"e":1033,"t":-1.35},{"e":1035,"t":-1.43},{"e":1037,"t":-1.29},{"e":1039,"t":-1.46},
{"e":1041,"t":-1.40},{"e":1043,"t":-1.34},{"e":1045,"t":-1.48},{"e":1047,"t":-1.38},{"e":1049,"t":-1.44},{"e":1051,"t":-1.31},{"e":1053,"t":-1.47},{"e":1055,"t":-1.41},{"e":1057,"t":-1.52},{"e":1059,"t":-1.36},
{"e":1061,"t":-1.43},{"e":1063,"t":-1.30},{"e":1065,"t":-1.45},{"e":1067,"t":-1.39},{"e":1069,"t":-1.50},{"e":1071,"t":-1.35},{"e":1073,"t":-1.42},{"e":1075,"t":-1.38},{"e":1077,"t":-1.55},{"e":1079,"t":-1.33},
{"e":1081,"t":-1.44},{"e":1083,"t":-1.40},{"e":1085,"t":-1.47},{"e":1087,"t":-1.36},{"e":1089,"t":-1.51},{"e":1091,"t":-1.41},{"e":1093,"t":-1.32},{"e":1095,"t":-1.46},{"e":1097,"t":-1.39},{"e":1099,"t":-1.44},
{"e":1101,"t":-1.30},{"e":1103,"t":-1.48},{"e":1105,"t":-1.37},{"e":1107,"t":-1.43},{"e":1109,"t":-1.52},{"e":1111,"t":-1.35},{"e":1113,"t":-1.41},{"e":1115,"t":-1.28},{"e":1117,"t":-1.46},{"e":1119,"t":-1.40},
{"e":1121,"t":-1.49},{"e":1123,"t":-1.36},{"e":1125,"t":-1.43},{"e":1127,"t":-1.31},{"e":1129,"t":-1.47},{"e":1131,"t":-1.38},{"e":1133,"t":-1.42},{"e":1135,"t":-1.34},{"e":1137,"t":-1.50},{"e":1139,"t":-1.40},
{"e":1141,"t":-1.45},{"e":1143,"t":-1.33},{"e":1145,"t":-1.48},{"e":1147,"t":-1.39},{"e":1149,"t":-1.53},{"e":1151,"t":-1.36},{"e":1153,"t":-1.44},{"e":1155,"t":-1.41},{"e":1157,"t":-1.30},{"e":1159,"t":-1.46},
{"e":1161,"t":-1.38},{"e":1163,"t":-1.51},{"e":1165,"t":-1.35},{"e":1167,"t":-1.43},{"e":1169,"t":-1.40},{"e":1171,"t":-1.32},{"e":1173,"t":-1.47},{"e":1175,"t":-1.39},{"e":1177,"t":-1.45},{"e":1179,"t":-1.34},
{"e":1181,"t":-1.49},{"e":1183,"t":-1.37},{"e":1185,"t":-1.42},{"e":1187,"t":-1.55},{"e":1189,"t":-1.38},{"e":1191,"t":-1.44},{"e":1193,"t":-1.33},{"e":1195,"t":-1.47},{"e":1197,"t":-1.40},{"e":1199,"t":-1.36},
{"e":1201,"t":-1.45},{"e":1203,"t":-1.39}
]},
"mark": {"type": "line", "color": "#000099", "strokeWidth": 1, "interpolate": "linear"},
"encoding": {
"x": {"field": "e", "type": "quantitative", "sort": "ascending", "scale": {"domain": [0, 1700], "nice": false, "zero": false},
"axis": {"orient": "bottom", "values": [0,200,400,600,800,1000,1200,1400,1600], "format": "d", "grid": true, "gridColor": "#a8a8a8", "gridDash": [1,3], "gridWidth": 1, "ticks": false, "domain": false, "labelFont": "Liberation Sans", "labelFontWeight": "bold", "labelFontSize": 20, "labelColor": "black", "labelPadding": 7, "labelFlush": false, "labelOverlap": false, "labelBound": false, "title": "Event", "titleFont": "Liberation Sans", "titleFontWeight": "bold", "titleFontSize": 20, "titleColor": "black", "titleAnchor": "end", "titleAlign": "right", "titleBaseline": "alphabetic", "titleX": 717, "titleY": 45}},
"y": {"field": "t", "type": "quantitative", "scale": {"domain": [-1.9, -0.7], "nice": false, "zero": false},
"axis": {"orient": "left", "values": [-1.8,-1.6,-1.4,-1.2,-1,-0.8], "labelExpr": "'\u2212' + format(-datum.value, '~g')", "grid": true, "gridColor": "#a8a8a8", "gridDash": [1,3], "gridWidth": 1, "ticks": false, "domain": false, "labelFont": "Liberation Sans", "labelFontWeight": "bold", "labelFontSize": 21, "labelColor": "black", "labelPadding": 3, "labelFlush": false, "labelOverlap": false, "labelBound": false, "title": null}}
}
},
{
"data": {"values": [{"label": "with delay"}]},
"mark": {"type": "text", "align": "left", "baseline": "alphabetic", "font": "Liberation Sans", "fontWeight": "bold", "fontSize": 28, "color": "#cc0000"},
"encoding": {
"x": {"datum": 1226, "type": "quantitative", "scale": {"domain": [0, 1700], "nice": false, "zero": false},
"axis": {"orient": "bottom", "values": [0,200,400,600,800,1000,1200,1400,1600], "tickSize": -15, "tickColor": "black", "tickWidth": 1, "labels": false, "grid": false, "domain": false, "title": null}},
"y": {"datum": -1.1896, "type": "quantitative", "scale": {"domain": [-1.9, -0.7], "nice": false, "zero": false},
"axis": {"orient": "left", "values": [-1.8,-1.6,-1.4,-1.2,-1,-0.8], "tickSize": -22, "tickColor": "black", "tickWidth": 1, "labels": false, "grid": false, "domain": false, "title": null}},
"text": {"field": "label"}
}
},
{
"data": {"values": [{"label": "without delay"}]},
"mark": {"type": "text", "align": "left", "baseline": "alphabetic", "font": "Liberation Sans", "fontWeight": "bold", "fontSize": 28, "color": "#00cc00"},
"encoding": {
"x": {"datum": 1226, "type": "quantitative", "scale": {"domain": [0, 1700], "nice": false, "zero": false},
"axis": {"orient": "bottom", "values": [50,100,150,250,300,350,450,500,550,650,700,750,850,900,950,1050,1100,1150,1250,1300,1350,1450,1500,1550,1650], "tickSize": -7, "tickColor": "black", "tickWidth": 1, "labels": false, "grid": false, "domain": false, "title": null}},
"y": {"datum": -1.4795, "type": "quantitative", "scale": {"domain": [-1.9, -0.7], "nice": false, "zero": false},
"axis": {"orient": "left", "values": [-1.85,-1.75,-1.7,-1.65,-1.55,-1.5,-1.45,-1.35,-1.3,-1.25,-1.15,-1.1,-1.05,-0.95,-0.9,-0.85,-0.75], "tickSize": -11, "tickColor": "black", "tickWidth": 1, "labels": false, "grid": false, "domain": false, "title": null}},
"text": {"field": "label"}
}
},
{
"data": {"values": [{"label": "t-t"}]},
"mark": {"type": "text", "align": "left", "baseline": "alphabetic", "angle": 270, "font": "Liberation Sans", "fontWeight": "bold", "fontSize": 22, "color": "black"},
"encoding": {
"x": {"datum": -129.7, "type": "quantitative", "scale": {"domain": [0, 1700], "nice": false, "zero": false}, "axis": null},
"y": {"datum": -0.9004, "type": "quantitative", "scale": {"domain": [-1.9, -0.7], "nice": false, "zero": false}, "axis": null},
"text": {"field": "label"}
}
},
{
"data": {"values": [{"label": "ref"}]},
"mark": {"type": "text", "align": "left", "baseline": "alphabetic", "angle": 270, "font": "Liberation Sans", "fontWeight": "bold", "fontSize": 16, "color": "black"},
"encoding": {
"x": {"datum": -124.5, "type": "quantitative", "scale": {"domain": [0, 1700], "nice": false, "zero": false}, "axis": null},
"y": {"datum": -0.8445, "type": "quantitative", "scale": {"domain": [-1.9, -0.7], "nice": false, "zero": false}, "axis": null},
"text": {"field": "label"}
}
},
{
"data": {"values": [{"label": "[ns]"}]},
"mark": {"type": "text", "align": "right", "baseline": "alphabetic", "angle": 270, "font": "Liberation Sans", "fontWeight": "bold", "fontSize": 19, "color": "black"},
"encoding": {
"x": {"datum": -129.7, "type": "quantitative", "scale": {"domain": [0, 1700], "nice": false, "zero": false}, "axis": null},
"y": {"datum": -0.7015, "type": "quantitative", "scale": {"domain": [-1.9, -0.7], "nice": false, "zero": false}, "axis": null},
"text": {"field": "label"}
}
}
]
}
